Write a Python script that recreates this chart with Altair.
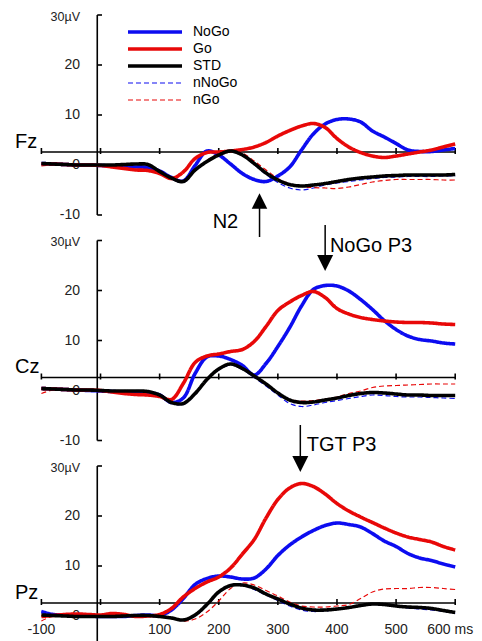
import altair as alt
import pandas as pd

# ---------------- data (µV) ----------------
times = [-100, -80, -60, -40, -20, 0, 20, 40, 60, 80, 100, 120, 140, 160, 180, 200,
         220, 240, 260, 280, 300, 320, 340, 360, 380, 400, 420, 440, 460, 480, 500,
         520, 540, 560, 580, 600]

panels = ["Fz", "Cz", "Pz"]
series_names = ["NoGo", "Go", "STD", "nNoGo", "nGo"]

fz_nogo = [0.3, 0.2, 0.1, 0.0, 0.0, -0.1, -0.2, -0.3, -0.4, -0.5, -1.2, -2.5, -3.2, -0.1, 2.8, 2.0,
           0.2, -1.7, -2.9, -3.3, -2.2, -0.4, 3.0, 6.2, 8.2, 9.1, 9.2, 8.6, 6.8, 5.6, 4.3,
           3.0, 2.7, 2.7, 3.0, 3.3]
fz_go = [0.2, 0.2, 0.1, 0.0, 0.0, -0.1, -0.4, -0.7, -1.0, -1.1, -1.7, -2.7, -1.4, 1.3, 2.5, 2.6,
         2.8, 3.1, 3.6, 4.5, 5.8, 6.9, 7.8, 8.3, 7.5, 5.3, 3.6, 2.5, 1.8, 1.5, 1.8,
         2.2, 2.6, 3.0, 3.6, 4.2]
fz_std = [0.3, 0.2, 0.1, 0.0, 0.0, 0.0, 0.0, 0.1, 0.2, 0.1, -1.3, -2.6, -3.3, -1.0, 0.7, 2.0,
          2.8, 2.0, 0.3, -1.6, -3.0, -3.9, -4.2, -4.0, -3.7, -3.3, -2.9, -2.6, -2.4, -2.2, -2.1,
          -2.0, -2.0, -2.0, -2.0, -1.9]
fz_nnogo = [0.2, 0.1, 0.0, -0.1, -0.1, -0.1, -0.2, -0.2, -0.1, -0.3, -1.4, -2.8, -3.4, -1.0, 0.8, 2.1,
            2.8, 1.9, 0.1, -1.9, -3.5, -4.6, -5.0, -4.6, -4.0, -3.6, -3.3, -3.0, -2.7, -2.5, -2.4,
            -2.3, -2.3, -2.3, -2.2, -2.2]
fz_ngo = [-0.2, 0.0, 0.0, -0.1, -0.1, -0.2, -0.4, -0.6, -0.8, -0.8, -1.6, -2.9, -3.2, -1.0, 0.9, 2.3,
          2.9, 2.4, 0.8, -1.0, -2.7, -3.8, -4.3, -4.5, -4.6, -4.7, -4.4, -3.9, -3.4, -3.1, -2.9,
          -2.9, -2.9, -2.9, -3.0, -3.0]

cz_nogo = [0.4, 0.3, 0.2, 0.1, 0.0, -0.1, -0.2, -0.3, -0.3, -0.4, -0.9, -2.4, -1.5, 3.4, 6.7, 6.9,
           6.2, 5.0, 3.1, 5.4, 8.8, 12.6, 16.9, 20.2, 21.0, 20.9, 19.9, 18.2, 16.2, 14.0, 12.2,
           10.9, 10.2, 9.9, 9.5, 9.3]
cz_go = [0.4, 0.3, 0.2, 0.1, 0.1, 0.0, -0.3, -0.6, -0.8, -0.9, -1.2, -1.8, 1.4, 5.6, 6.9, 7.3,
         7.8, 8.2, 9.8, 12.8, 16.0, 17.7, 19.0, 19.8, 18.6, 16.4, 15.3, 14.6, 14.2, 13.9, 13.7,
         13.6, 13.6, 13.5, 13.3, 13.2]
cz_std = [0.4, 0.3, 0.2, 0.1, 0.1, 0.0, -0.1, -0.1, -0.1, -0.2, -0.9, -2.4, -2.6, -0.6, 2.2, 4.3,
          5.3, 4.4, 2.9, 1.3, -0.5, -1.9, -2.4, -2.3, -1.9, -1.5, -1.0, -0.6, -0.4, -0.5, -0.7,
          -0.9, -0.9, -1.0, -1.0, -1.0]
cz_nnogo = [0.5, 0.3, 0.2, 0.1, 0.0, -0.1, -0.2, -0.2, -0.2, -0.3, -1.0, -2.5, -2.8, -0.8, 2.0, 4.1,
            5.1, 4.2, 2.6, 0.9, -0.9, -2.6, -3.2, -2.9, -2.4, -2.0, -1.6, -1.2, -0.9, -1.0, -1.2,
            -1.3, -1.3, -1.4, -1.5, -1.6]
cz_ngo = [-0.6, 0.1, 0.2, 0.1, 0.0, -0.1, -0.2, -0.3, -0.4, -0.5, -1.0, -2.3, -2.5, -0.6, 2.0, 4.2,
          5.4, 4.6, 3.0, 1.4, -0.5, -1.8, -2.1, -2.0, -1.7, -1.3, -0.6, -0.1, 0.6, 0.9, 1.0,
          1.1, 1.2, 1.3, 1.3, 1.3]

pz_nogo = [0.9, 0.3, 0.2, 0.1, 0.0, -0.1, -0.1, -0.1, 0.1, 0.2, 0.1, 1.2, 3.5, 6.3, 7.5, 8.0,
           7.8, 7.4, 7.6, 9.4, 12.1, 14.2, 15.8, 17.1, 18.1, 18.6, 18.3, 17.8, 16.5, 15.0, 13.9,
           12.5, 11.6, 11.1, 10.4, 9.8]
pz_go = [-0.1, 0.1, 0.3, 0.4, 0.3, 0.2, 0.5, 0.3, -0.1, 0.0, 0.3, 1.5, 3.8, 5.5, 6.8, 7.8,
         9.6, 12.4, 15.3, 19.6, 23.3, 25.6, 26.5, 25.9, 24.4, 22.5, 21.0, 19.8, 18.7, 17.6, 16.6,
         15.8, 15.3, 14.8, 13.9, 13.2]
pz_std = [0.2, 0.1, 0.0, -0.1, -0.1, -0.1, -0.1, 0.0, 0.1, 0.1, -0.1, -0.4, -0.8, 0.2, 2.3, 4.8,
          6.1, 6.2, 5.6, 4.4, 3.4, 2.4, 1.6, 1.2, 1.2, 1.4, 1.7, 2.1, 2.4, 2.3, 2.0,
          1.8, 1.7, 1.5, 1.1, 0.7]
pz_nnogo = [1.0, 0.3, 0.1, 0.0, -0.1, -0.1, -0.1, 0.0, 0.1, 0.1, -0.2, -0.5, -0.9, 0.0, 2.1, 4.6,
            6.0, 6.1, 5.3, 4.2, 3.1, 2.0, 1.2, 0.9, 1.0, 1.3, 1.6, 2.0, 2.3, 2.2, 1.9,
            1.6, 1.4, 1.2, 0.9, 0.5]
pz_ngo = [-1.0, 0.0, 0.1, 0.2, 0.1, 0.0, 0.1, 0.1, 0.0, 0.0, -0.2, -0.3, -1.0, -0.6, 0.8, 3.0,
          5.5, 6.6, 6.2, 5.1, 4.0, 2.8, 2.0, 1.8, 1.8, 2.0, 2.3, 3.5, 4.8, 5.4, 5.5,
          5.5, 5.7, 5.7, 5.5, 5.3]

waves = {
    "Fz": [fz_nogo, fz_go, fz_std, fz_nnogo, fz_ngo],
    "Cz": [cz_nogo, cz_go, cz_std, cz_nnogo, cz_ngo],
    "Pz": [pz_nogo, pz_go, pz_std, pz_nnogo, pz_ngo],
}

# axis texts
ytick_values = [30, 20, 10, -10]
ylabel_values = [30, 20, 10, 0, -10]
ylabel_texts = ["30µV", "20", "10", "0", "-10"]
xtick_values = [-100, 0, 100, 200, 300, 400, 500, 600]
xlabel_values = [-100, 100, 200, 300, 400, 500, 600]
xlabel_texts = ["-100", "100", "200", "300", "400", "500", "600 ms"]

# annotations
ann_panels = ["Fz", "Cz", "Pz"]
ann_texts = ["N2", "NoGo P3", "TGT P3"]
ann_dirs = ["up", "down", "down"]
ann_ms = [269, 380, 338]          # arrow latency
ann_tip = [-5.6, 23.9, 28.8]      # µV at arrow tip
ann_tail = [-14.4, 33.1, 38.2]    # µV at arrow tail

# ---------------- layout / style ----------------
series_colors = ["#0c0cf0", "#e80808", "#000000", "#0c0cf0", "#e80808"]
series_dashes = [[1, 0], [1, 0], [1, 0], [5, 3], [5, 3]]
series_widths = [3.6, 3.6, 3.6, 1.2, 1.2]

SHIFT = {"Fz": 0.0, "Cz": 45.1, "Pz": 90.2}   # vertical stacking of panels (µV units)
SHIFT_EXPR = "(datum.panel === 'Cz' ? %s : (datum.panel === 'Pz' ? %s : 0))" % (SHIFT["Cz"], SHIFT["Pz"])
AXIS_LEVEL = 2.6        # the drawn horizontal time axis sits slightly above 0 µV
YAXIS_MS = -5.5
YTICK_END_MS = 2.5
YLABEL_MS = -34.7
PANEL_LABEL_MS = -144.7
XLABEL_UV = -2.8
HEAD = 1.6
FONT = "Liberation Sans"
Y_MIN, Y_MAX = -95.2, 31.4

X_SCALE = alt.Scale(domain=[-156.5, 631.8], nice=False, zero=False)
Y_SCALE = alt.Scale(domain=[Y_MIN, Y_MAX], nice=False, zero=False)


def xq(f):
    return alt.X(f, type="quantitative", scale=X_SCALE, axis=None)


def yq(f):
    return alt.Y(f, type="quantitative", scale=Y_SCALE, axis=None)


def shift(chart, **fields):
    return chart.transform_calculate(**{k: "datum.%s - %s" % (v, SHIFT_EXPR) for k, v in fields.items()})


# ---------------- tables ----------------
rows = []
for p in panels:
    for s, vals in zip(series_names, waves[p]):
        for t, v in zip(times, vals):
            rows.append({"panel": p, "series": s, "ms": t, "uv": v})
wave_df = pd.DataFrame(rows)

legend = alt.Legend(
    orient="none", legendX=118, legendY=15.5, title=None, symbolType="stroke",
    symbolSize=2916, clipHeight=17, labelFontSize=14, labelFont=FONT, labelColor="black",
    labelOffset=9, padding=0, rowPadding=0, labelLimit=200,
)


def wave_layer(names):
    base = alt.Chart(wave_df).transform_filter(
        alt.FieldOneOfPredicate(field="series", oneOf=names))
    base = shift(base, g="uv")
    return base.mark_line(interpolate="catmull-rom").encode(
        x=xq("ms"),
        y=yq("g"),
        color=alt.Color("series:N", scale=alt.Scale(domain=series_names, range=series_colors), legend=legend),
        strokeDash=alt.StrokeDash("series:N", scale=alt.Scale(domain=series_names, range=series_dashes), legend=legend),
        strokeWidth=alt.StrokeWidth("series:N", scale=alt.Scale(type="ordinal", domain=series_names, range=series_widths), legend=legend),
        detail="panel:N",
    )


hline_df = pd.DataFrame({"panel": panels, "uv": [AXIS_LEVEL] * 3,
                         "x0": [xtick_values[0]] * 3, "x1": [xtick_values[-1]] * 3})
hline = shift(alt.Chart(hline_df), g="uv").mark_rule(color="black", strokeWidth=1.6).encode(
    x=xq("x0"), x2="x1", y=yq("g"))

xt_df = pd.DataFrame([{"panel": p, "ms": m, "lo": AXIS_LEVEL - 0.4, "hi": AXIS_LEVEL + 0.8}
                      for p in panels for m in xtick_values])
xticks = shift(alt.Chart(xt_df), g="lo", g2="hi").mark_rule(color="black", strokeWidth=1.6).encode(
    x=xq("ms"), y=yq("g"), y2="g2")

vax_df = pd.DataFrame({"panel": panels, "ms": [YAXIS_MS] * 3,
                       "top": [ytick_values[0]] * 3, "bot": [ytick_values[-1]] * 3})
vaxis = shift(alt.Chart(vax_df), g="top", g2="bot").mark_rule(color="black", strokeWidth=1.6).encode(
    x=xq("ms"), y=yq("g"), y2="g2")

yt_df = pd.DataFrame([{"panel": p, "uv": v, "a": YAXIS_MS, "b": YTICK_END_MS}
                      for p in panels for v in ytick_values])
yticks = shift(alt.Chart(yt_df), g="uv").mark_rule(color="black", strokeWidth=1.6).encode(
    x=xq("a"), x2="b", y=yq("g"))

yl_df = pd.DataFrame([{"panel": p, "uv": v, "txt": t, "ms": YLABEL_MS}
                      for p in panels for v, t in zip(ylabel_values, ylabel_texts)])
yl_base = shift(alt.Chart(yl_df), g="uv").transform_filter("datum.g > %s" % (Y_MIN + 3))
ylabels = yl_base.transform_filter("datum.uv < 30").mark_text(
    align="right", baseline="middle", font=FONT, fontSize=14, color="#222222").encode(
    x=xq("ms"), y=yq("g"), text="txt:N")
ylabels_top = yl_base.transform_filter("datum.uv >= 30").mark_text(
    align="right", baseline="middle", font=FONT, fontSize=12.5, color="#222222", dy=1.5).encode(
    x=xq("ms"), y=yq("g"), text="txt:N")

pl_df = pd.DataFrame({"panel": panels, "ms": [PANEL_LABEL_MS] * 3, "uv": [3.5] * 3})
plabels = shift(alt.Chart(pl_df), g="uv").mark_text(
    align="left", baseline="alphabetic", font=FONT, fontSize=20, color="black").encode(
    x=xq("ms"), y=yq("g"), text="panel:N")

xl_df = pd.DataFrame({"panel": ["Pz"] * len(xlabel_values), "ms": xlabel_values,
                      "txt": xlabel_texts, "uv": [XLABEL_UV] * len(xlabel_values)})
xl_base = shift(alt.Chart(xl_df), g="uv")
xlabels = xl_base.transform_filter("datum.ms < %s" % xlabel_values[-1]).mark_text(
    align="center", baseline="middle", font=FONT, fontSize=14, color="#222222").encode(
    x=xq("ms"), y=yq("g"), text="txt:N")
xlabel_last = xl_base.transform_filter("datum.ms >= %s" % xlabel_values[-1]).mark_text(
    align="right", baseline="middle", font=FONT, fontSize=14, color="#222222", dx=18).encode(
    x=xq("ms"), y=yq("g"), text="txt:N")

ann_df = pd.DataFrame({"panel": ann_panels, "txt": ann_texts, "dir": ann_dirs, "ms": ann_ms,
                       "tip": ann_tip, "tail": ann_tail})
ann_df["head_c"] = [t - HEAD if d == "up" else t + HEAD for t, d in zip(ann_tip, ann_dirs)]
ann_df["neck"] = [t - 2 * HEAD + 0.2 if d == "up" else t + 2 * HEAD - 0.2 for t, d in zip(ann_tip, ann_dirs)]
ann_df["txt_ms"] = [233, 388, 349]
ann_df["txt_uv"] = [-12.6, 27.7, 33.0]
ann_df["align"] = ["right", "left", "left"]

shafts = shift(alt.Chart(ann_df), g="tail", g2="neck").mark_rule(color="black", strokeWidth=1.5).encode(
    x=xq("ms"), y=yq("g"), y2="g2")
heads_up = shift(alt.Chart(ann_df).transform_filter("datum.dir === 'up'"), g="head_c").mark_point(
    shape="M0,-1L-1,1L1,1Z", size=240, filled=True, color="black", opacity=1, strokeWidth=0).encode(
    x=xq("ms"), y=yq("g"))
heads_down = shift(alt.Chart(ann_df).transform_filter("datum.dir === 'down'"), g="head_c").mark_point(
    shape="M0,1L-1,-1L1,-1Z", size=256, filled=True, color="black", opacity=1, strokeWidth=0).encode(
    x=xq("ms"), y=yq("g"))
ann_left = shift(alt.Chart(ann_df).transform_filter("datum.align === 'left'"), g="txt_uv").mark_text(
    align="left", baseline="alphabetic", font=FONT, fontSize=20, color="black").encode(
    x=xq("txt_ms"), y=yq("g"), text="txt:N")
ann_right = shift(alt.Chart(ann_df).transform_filter("datum.align === 'right'"), g="txt_uv").mark_text(
    align="right", baseline="alphabetic", font=FONT, fontSize=20, color="black").encode(
    x=xq("txt_ms"), y=yq("g"), text="txt:N")

chart = alt.layer(
    hline, xticks, vaxis, yticks, ylabels, ylabels_top, plabels, xlabels, xlabel_last,
    wave_layer(["nNoGo", "nGo"]),
    wave_layer(["NoGo", "Go"]),
    wave_layer(["STD"]),
    shafts, heads_up, heads_down, ann_left, ann_right,
).properties(
    width=466, height=633, padding=0, autosize=alt.AutoSizeParams(type="none"),
    background="white",
).configure_view(strokeWidth=0)

chart.save("out.html", embed_options={"renderer": "svg", "actions": False})
